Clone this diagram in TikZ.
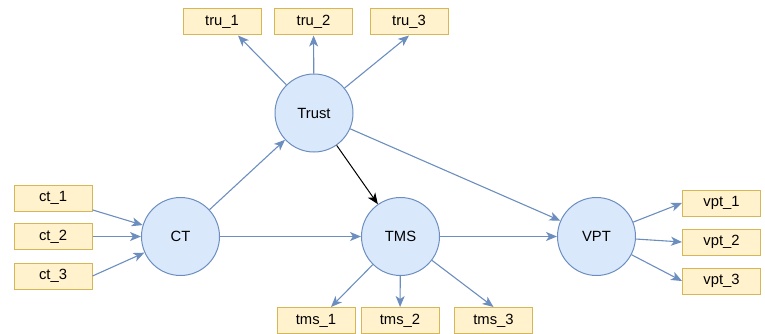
\documentclass[tikz,border=0pt]{standalone}
\usepackage{fontspec}
\setmainfont{Liberation Sans}
\usetikzlibrary{arrows.meta}
\definecolor{circfill}{HTML}{DAE8FC}
\definecolor{circline}{HTML}{6C8EBF}
\definecolor{boxfill}{HTML}{FFF2CC}
\definecolor{boxline}{HTML}{D6B656}
\begin{document}
\begin{tikzpicture}[x=1pt,y=-1pt,
  every node/.style={font=\fontsize{14.8}{17}\selectfont},
  latent/.style={circle,draw=circline,fill=circfill,line width=1pt,minimum size=78pt,inner sep=0pt},
  indic/.style={rectangle,draw=boxline,fill=boxfill,line width=1pt,minimum width=78pt,minimum height=26pt,inner sep=0pt},
  conn/.style={draw=circline,line width=1.1pt,-{Stealth[length=11pt,width=9pt,inset=3pt]}},
  blackconn/.style={draw=black,line width=1pt,-{Stealth[length=11pt,width=9pt,inset=3pt]}}]
\useasboundingbox (0,0) rectangle (765,334);
% latent variables
\node[latent] (trust) at (314,113) {Trust};
\node[latent] (ct) at (180.5,236.5) {CT};
\node[latent] (tms) at (400.5,236.5) {TMS};
\node[latent] (vpt) at (596.5,236.5) {VPT};
% indicators
\node[indic] (tru1) at (222,22) {tru\_1};
\node[indic] (tru2) at (313.5,22) {tru\_2};
\node[indic] (tru3) at (409,22) {tru\_3};
\node[indic] (ct1) at (53,198) {ct\_1};
\node[indic] (ct2) at (53,236.5) {ct\_2};
\node[indic] (ct3) at (53,276) {ct\_3};
\node[indic] (tms1) at (316,320.5) {tms\_1};
\node[indic] (tms2) at (400,320.5) {tms\_2};
\node[indic] (tms3) at (493.5,320.5) {tms\_3};
\node[indic] (vpt1) at (721.5,203) {vpt\_1};
\node[indic] (vpt2) at (721.5,242) {vpt\_2};
\node[indic] (vpt3) at (721.5,281) {vpt\_3};
% connectors
\draw[conn] (trust) -- ([xshift=16pt]tru1.south);
\draw[conn] (trust) -- (tru2);
\draw[conn] (trust) -- (tru3.south);
\draw[conn] (ct1) -- (ct);
\draw[conn] (ct2) -- (ct);
\draw[conn] (ct3.east) -- (ct);
\draw[conn] (ct) -- (trust);
\draw[conn] (ct) -- (tms);
\draw[conn] (tms) -- (vpt);
\draw[conn] (trust) -- (vpt);
\draw[blackconn] (trust) -- (tms);
\draw[conn] (tms) -- ([xshift=15pt]tms1.north);
\draw[conn] (tms) -- (tms2);
\draw[conn] (tms) -- (tms3.north);
\draw[conn] (vpt) -- (vpt1.west);
\draw[conn] (vpt) -- (vpt2.west);
\draw[conn] (vpt) -- (vpt3.west);
\end{tikzpicture}
\end{document}
